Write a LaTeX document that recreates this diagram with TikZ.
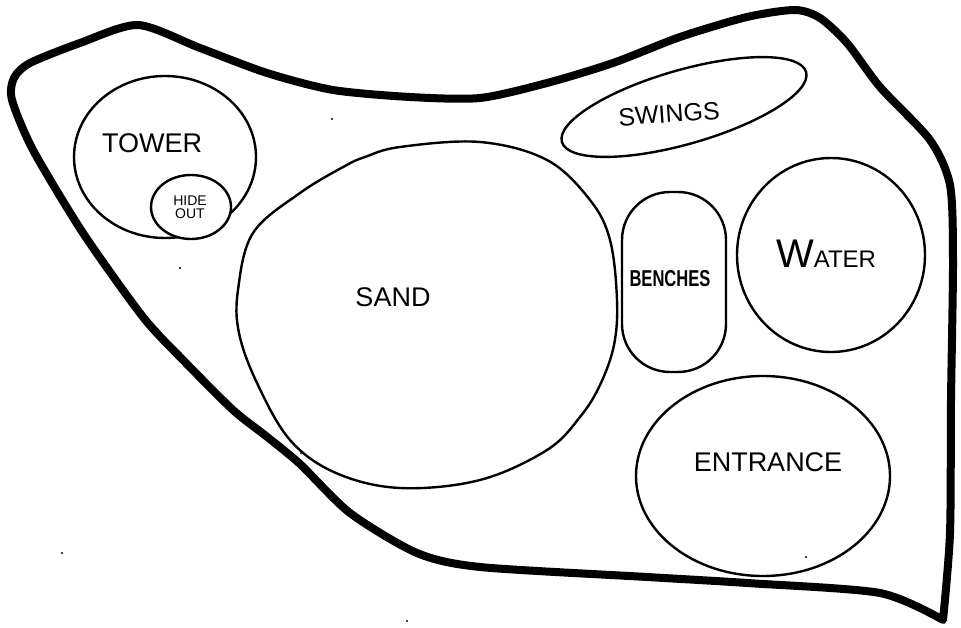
\documentclass[tikz,border=0pt]{standalone}
\usepackage{fontspec}
\setmainfont{Liberation Sans}
\begin{document}
\begin{tikzpicture}[x=1pt,y=-1pt,
  outline/.style={line width=8pt,line join=round,line cap=round},
  area/.style={line width=2.4pt},
  lbl/.style={inner sep=0pt,anchor=center},
  speck/.style={fill=black,draw=none}]
\useasboundingbox (0,0) rectangle (961,628);
% park boundary
\draw[outline] plot[smooth,tension=0.45] coordinates {
 (943,620) (880,593) (747,583) (647,577) (480,567) (417,553) (350,513)
 (300,464) (266,436) (233,410) (183,360) (143,317) (83,233) (33,150) (12,100)
 (14,78) (30,63) (80,43) (138,25) (200,48) (267,73) (333,90) (410,97)
 (480,98) (547,83) (613,63) (680,37) (747,17) (795,10) (820,18) (847,43)
 (880,87) (930,140) (950,185) (953,260) (951,400) (950,533) (943,620)} -- cycle;
% tower & hideout
\draw[area] (165,157) ellipse [x radius=91, y radius=81];
\draw[area,fill=white] (191,207) ellipse [x radius=40, y radius=32];
\node[lbl] (tower) at (152,143) {\fontsize{27}{29}\selectfont TOWER};
\node[lbl,align=center,font=\fontsize{14}{14}\selectfont] (hideout) at (190,207) {HIDE\\[-1pt]OUT};
% sand
\draw[area] plot[smooth cycle,tension=0.6] coordinates {
 (400,147) (480,142) (547,160) (590,200) (610,240) (617,300) (614,345)
 (600,385) (580,417) (547,450) (480,480) (400,488) (336,473) (290,440)
 (257,383) (239,333) (238,290) (253,233) (300,193) (345,166) (365,157)};
\node[lbl] (sand) at (393,297) {\fontsize{27}{29}\selectfont SAND};
% swings
\draw[area,rotate around={16:(684,107)}] (684,107) ellipse [x radius=127, y radius=37];
\node[lbl,rotate=4] (swings) at (669,114) {\fontsize{25}{27}\selectfont SWINGS};
% benches
\draw[area,rounded corners=48pt] (622,192) rectangle (726,372);
\node[lbl,xscale=0.72] (benches) at (670,279) {\fontsize{23}{25}\selectfont\bfseries BENCHES};
% water
\draw[area] (831,255) ellipse [x radius=94, y radius=97];
\node[lbl] (water) at (826,254) {\fontsize{40}{42}\selectfont W\fontsize{24}{26}\selectfont ATER};
% entrance
\draw[area] (763,476) ellipse [x radius=127, y radius=100];
\node[lbl] (entrance) at (768,462) {\fontsize{27}{29}\selectfont ENTRANCE};
% specks
\foreach \p in {(301,453),(62,553),(407,621),(806,557),(332,119),(180,268)}
  \fill[speck] \p circle (1.2);
\end{tikzpicture}
\end{document}
